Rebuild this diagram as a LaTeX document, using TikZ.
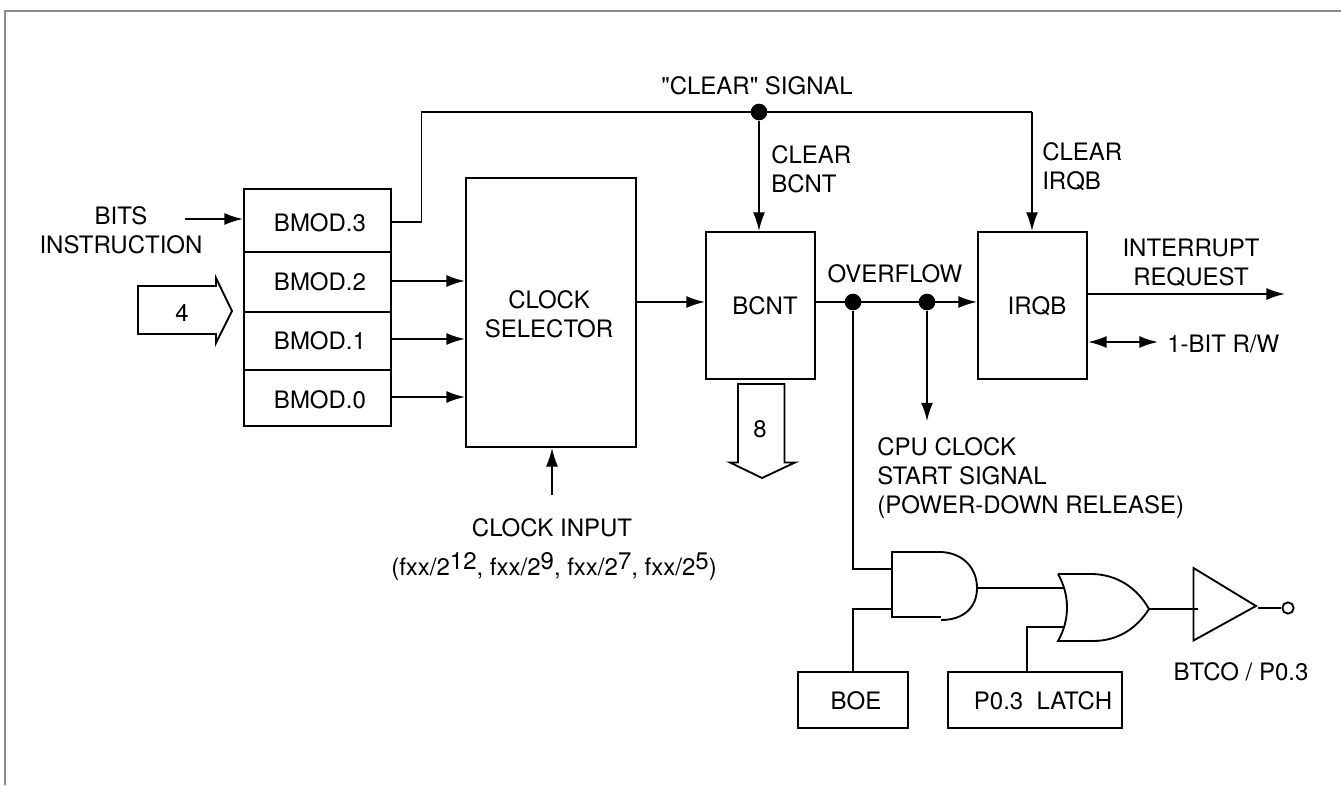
\documentclass[tikz,border=0pt]{standalone}
\usepackage{fontspec}
\setmainfont{TeX Gyre Heros}
\newfontfamily\plainq{TeX Gyre Heros}[Ligatures=ResetAll]
\usetikzlibrary{arrows.meta,calc}
\tikzset{
  x=0.75pt,y=-0.75pt,
  wire/.style={draw=black,line width=1.4pt},
  tipb/.tip={Latex[length=14pt,width=9pt,inset=0pt]},
  arr/.style={wire,-tipb},
  dblarr/.style={wire,tipb-tipb},
  boxn/.style={draw=black,line width=1.4pt,inner sep=0pt,anchor=north west},
  txt/.style={font=\fontsize{18pt}{21.6pt}\selectfont,inner sep=0pt,align=center,text=black},
  dot/.style={circle,fill=black,inner sep=0pt,minimum size=12.5pt},
  frame/.style={draw=black!45,line width=0.9pt},
}
\newcommand{\bx}[5]{\node[boxn,minimum width=#4*0.75pt,minimum height=#5*0.75pt] (#1) at (#2,#3) {};}
\newcommand{\rs}[1]{\raisebox{4.5pt}{#1}}
\begin{document}
\begin{tikzpicture}
\useasboundingbox (0,0) rectangle (1341,785);
% frame
\coordinate (f1) at (5,785);\coordinate (f2) at (5,11);\coordinate (f3) at (1341,11);
\draw[frame] (f1) -- (f2) -- (f3);
% boxes
\bx{b3}{243}{188}{147}{63}
\bx{b2}{243}{251}{147}{60}
\bx{b1}{243}{311}{147}{58}
\bx{b0}{243}{369}{147}{56}
\bx{sel}{465}{177}{170}{269}
\bx{bcnt}{705}{231}{109}{147}
\bx{irqb}{977}{231}{109}{147}
\bx{boe}{797}{671}{110}{56}
\bx{latch}{947}{671}{174}{56}
% texts
\node[txt] (tb3) at (320,223) {BMOD.3};
\node[txt] (tb2) at (320,282) {BMOD.2};
\node[txt] (tb1) at (320,341) {BMOD.1};
\node[txt] (tb0) at (320,400) {BMOD.0};
\node[txt] (tbits) at (121,230) {BITS\\INSTRUCTION};
\node[txt] (tsel) at (549,314) {CLOCK\\SELECTOR};
\node[txt] (tbcnt) at (765,306) {BCNT};
\node[txt] (tirqb) at (1037,306) {IRQB};
\node[txt] (tclr) at (757,86) {\plainq "CLEAR" SIGNAL};
\node[txt,align=left,anchor=west] (tcb) at (771,169) {CLEAR\\BCNT};
\node[txt,align=left,anchor=west] (tci) at (1042,166.5) {CLEAR\\IRQB};
\node[txt] (tov) at (895,274) {OVERFLOW};
\node[txt] (tint) at (1191,262.5) {INTERRUPT\\REQUEST};
\node[txt,anchor=west] (trw) at (1167,344) {1-BIT R/W};
\node[txt,align=left,anchor=west] (tcpu) at (877,478) {CPU CLOCK\\START SIGNAL\\(POWER-DOWN RELEASE)};
\node[txt] (tin) at (552,528) {CLOCK INPUT};
\node[txt,anchor=base] (tin2) at (554,575) {(fxx/2\rs{12}, fxx/2\rs{9}, fxx/2\rs{7}, fxx/2\rs{5})};
\node[txt] (t4) at (182,313) {4};
\node[txt] (t8) at (760,429) {8};
\node[txt] (tboe) at (856,701) {BOE};
\node[txt] (tlatch) at (1043,701) {P0.3~~LATCH};
\node[txt] (tbtco) at (1241,672) {BTCO / P0.3};
% junctions
\node[dot] (jc) at (759,112) {};
\node[dot] (j1) at (853,302) {};
\node[dot] (j2) at (927,302) {};
% free points
\coordinate (bitsS) at (185,219);
\coordinate (bitsE) at (243,219);
\coordinate (b3o) at (390,222);
\coordinate (ck1) at (421.5,222);
\coordinate (ck2) at (421.5,112);
\coordinate (ck3) at (1032,112);
\coordinate (b2o) at (390,281);
\coordinate (b1o) at (390,339);
\coordinate (b0o) at (390,397);
\coordinate (seli) at (552,495);
\coordinate (selo) at (635,302);
\coordinate (bci) at (705,302);
\coordinate (bco) at (814,302);
\coordinate (iqi) at (977,302);
\coordinate (iqo) at (1086,294);
\coordinate (iqe) at (1285,294);
\coordinate (iqr) at (1088,342);
\coordinate (iqs) at (1158,342);
\coordinate (cpue) at (927,421.5);
% connectors
\draw[arr] (bitsS) -- (bitsE);
\draw[wire] (b3o) -- (ck1) -- (ck2) -- (ck3);
\draw[arr] (ck3) -- (ck3 |- irqb.north);
\draw[arr] (jc) -- (bcnt.north -| jc);
\draw[arr] (b2o) -- (b2o -| sel.west);
\draw[arr] (b1o) -- (b1o -| sel.west);
\draw[arr] (b0o) -- (b0o -| sel.west);
\draw[arr] (seli) -- (seli |- sel.south);
\draw[arr] (selo) -- (bci);
\draw[arr] (bco) -- (iqi);
\draw[arr,line width=1.7pt] (j2) -- (cpue);
\draw[arr] (iqo) -- (iqe);
\draw[dblarr] (iqr) -- (iqs);
% bus arrows
\draw[wire,line join=miter] (138,286) -- (216,286) -- (216,278) -- (232,311) -- (216,343) -- (216,334) -- (138,334) -- cycle;
\draw[wire,line join=miter] (738,384) -- (784.5,384) -- (784.5,462.5) -- (795,462.5) -- (762,478) -- (730,462.5) -- (738,462.5) -- cycle;
% gates
\coordinate (ai1) at (892,569);
\coordinate (ai2) at (892,609);
\coordinate (ao) at (977,588);
\coordinate (oi1) at (1064,588);
\coordinate (oi2) at (1064,627);
\coordinate (oo) at (1149,609);
\coordinate (to) at (1256,606);
\coordinate (po) at (1258,608);
\node[circle,draw=black,line width=1.4pt,inner sep=0pt,minimum size=8.5pt] (pin) at (1288,608) {};
\draw[wire,line join=miter] (941,552) -- (892,552) -- (892,617) -- (941,617);
\draw[wire] (941,552) .. controls (964,553) and (977,569) .. (ao) .. controls (977,607) and (964,620) .. (941,620);
\draw[wire,line join=miter] (1058,574) -- (1093,574) .. controls (1118,575) and (1137,588) .. (oo) .. controls (1137,628) and (1118,641) .. (1093,641) -- (1058,641) .. controls (1070,620) and (1070,595) .. (1058,574);
\draw[wire,line join=miter] (1193.5,568) -- (to) -- (1193.5,640.5) -- cycle;
\draw[wire] (j1) |- (ai1);
\draw[wire] (853,671) |- (ai2);
\draw[wire] (ao) -- (oi1);
\draw[wire] (1027,671) |- (oi2);
\draw[wire] (oo) -- (1198,609);
\draw[wire] (po) -- (pin.west);
\end{tikzpicture}
\end{document}
